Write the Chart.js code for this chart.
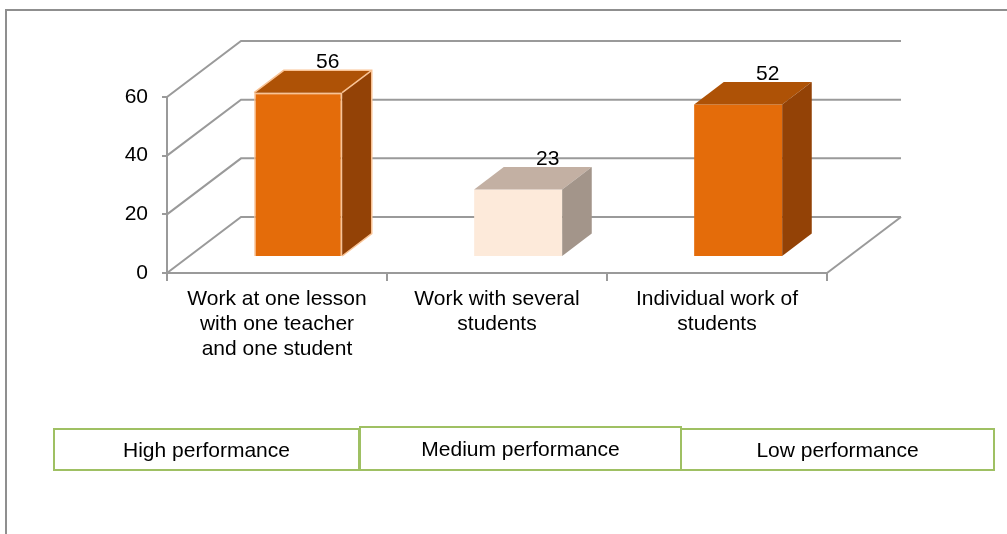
<!DOCTYPE html>
<html>
<head>
<meta charset="utf-8">
<script src="https://cdn.jsdelivr.net/npm/chart.js@4.4.1/dist/chart.umd.min.js"></script>
<style>
  html, body { margin: 0; padding: 0; background: #fff; }
  body { width: 1007px; height: 534px; position: relative; overflow: hidden; font-family: "Liberation Sans", Arial, sans-serif; }
  #frame { position: absolute; left: 5px; top: 9px; width: 1020px; height: 540px; border-left: 2px solid #8f8f8f; border-top: 2px solid #8f8f8f; }
  #chart { position: absolute; left: 0; top: 0; }
  .lvl { position: absolute; box-sizing: border-box; border: 2px solid #9fc063; font-size: 21px; text-align: center; color: #000; }
</style>
</head>
<body>
<div id="frame"></div>
<canvas id="chart" width="1007" height="534"></canvas>
<div id="levels"></div>
<script>
// data
const categories = [
    ["Work at one lesson", "with one teacher", "and one student"],
    ["Work with several", "students"],
    ["Individual work of", "students"]
];
const values = [56, 23, 52];
const yTicks = [0, 20, 40, 60];
const levels = ["High performance", "Medium performance", "Low performance"];

// colours for the 3d boxes
const frontColors = ["#e46c0a", "#fdeada", "#e46c0a"];
const topColors = ["#ae5206", "#c3b0a3", "#ae5206"];
const sideColors = ["#934206", "#a3958a", "#934206"];
const edgeColors = ["#f9c395", null, null];

const GRID = "#9a9a9a";
const FONT = '"Liberation Sans", Arial, sans-serif';

// depth of the floor, and where the boxes sit inside it
const DEPTH_X = 74, DEPTH_Y = -56;
const BAR_Z0 = 0.286, BAR_Z1 = 0.686;

const box3d = {
    id: "box3d",
    beforeDatasetsDraw(chart) {
        const ctx = chart.ctx;
        const a = chart.chartArea;
        const y = chart.scales.y;
        ctx.save();
        ctx.strokeStyle = GRID;
        ctx.lineWidth = 2;
        yTicks.forEach(v => {
            const py = y.getPixelForValue(v);
            ctx.beginPath();
            ctx.moveTo(a.left, py);
            ctx.lineTo(a.left + DEPTH_X, py + DEPTH_Y);
            ctx.lineTo(a.right + DEPTH_X, py + DEPTH_Y);
            ctx.stroke();
        });
        const p0 = y.getPixelForValue(0);
        ctx.beginPath();
        ctx.moveTo(a.right, p0);
        ctx.lineTo(a.right + DEPTH_X, p0 + DEPTH_Y);
        ctx.stroke();
        ctx.restore();

        // push the front faces back into the floor
        ctx.save();
        ctx.translate(DEPTH_X * BAR_Z0, DEPTH_Y * BAR_Z0);
    },
    afterDatasetsDraw(chart) {
        const ctx = chart.ctx;
        const meta = chart.getDatasetMeta(0);
        const dx = DEPTH_X * (BAR_Z1 - BAR_Z0);
        const dy = DEPTH_Y * (BAR_Z1 - BAR_Z0);
        meta.data.forEach((bar, i) => {
            const { x, y, base, width } = bar.getProps(["x", "y", "base", "width"], true);
            const l = x - width / 2, r = x + width / 2;

            ctx.beginPath();
            ctx.moveTo(l, y);
            ctx.lineTo(l + dx, y + dy);
            ctx.lineTo(r + dx, y + dy);
            ctx.lineTo(r, y);
            ctx.closePath();
            ctx.fillStyle = topColors[i];
            ctx.fill();

            ctx.beginPath();
            ctx.moveTo(r, y);
            ctx.lineTo(r + dx, y + dy);
            ctx.lineTo(r + dx, base + dy);
            ctx.lineTo(r, base);
            ctx.closePath();
            ctx.fillStyle = sideColors[i];
            ctx.fill();

            if (edgeColors[i]) {
                ctx.strokeStyle = edgeColors[i];
                ctx.lineWidth = 1.5;
                ctx.beginPath();
                ctx.moveTo(l, y);
                ctx.lineTo(l + dx, y + dy);
                ctx.lineTo(r + dx, y + dy);
                ctx.lineTo(r + dx, base + dy);
                ctx.lineTo(r, base);
                ctx.moveTo(r, y);
                ctx.lineTo(r + dx, y + dy);
                ctx.stroke();
            }

            ctx.fillStyle = "#000";
            ctx.font = "21px " + FONT;
            ctx.textAlign = "center";
            ctx.textBaseline = "alphabetic";
            ctx.fillText(String(values[i]), x + dx, y + dy - 2);
        });
        ctx.restore();
    }
};

const ctx = document.getElementById("chart");
new Chart(ctx, {
    type: "bar",
    data: {
        labels: categories,
        datasets: [{
            data: values,
            backgroundColor: frontColors,
            borderColor: edgeColors.map(c => c || "rgba(0,0,0,0)"),
            borderWidth: [1.5, 0, 0],
            barPercentage: 0.4,
            categoryPercentage: 1.0,
            clip: false
        }]
    },
    options: {
        responsive: false,
        animation: false,
        layout: { padding: { left: 0, top: 97, right: 180, bottom: 0 } },
        plugins: {
            legend: { display: false },
            tooltip: { enabled: false }
        },
        scales: {
            x: {
                afterFit: s => { s.height = 534 - 273; },
                grid: { drawOnChartArea: false, tickLength: 8, color: GRID, lineWidth: 2, offset: true },
                border: { color: GRID, width: 2 },
                ticks: {
                    color: "#000",
                    font: { family: FONT, size: 21, lineHeight: 1.19 },
                    padding: 6,
                    maxRotation: 0,
                    autoSkip: false
                }
            },
            y: {
                min: 0,
                max: 60,
                afterBuildTicks: s => { s.ticks = yTicks.map(v => ({ value: v })); },
                afterFit: s => { s.width = 167; },
                grid: { drawOnChartArea: false, tickLength: 5, color: GRID, lineWidth: 2 },
                border: { color: GRID, width: 2 },
                ticks: { color: "#000", font: { family: FONT, size: 21 }, padding: 14 }
            }
        }
    },
    plugins: [box3d]
});

// the three boxes under the chart
const boxes = [
    { left: 53, top: 428, width: 307, height: 43 },
    { left: 359, top: 426, width: 323, height: 45 },
    { left: 680, top: 428, width: 315, height: 43 }
];
const holder = document.getElementById("levels");
levels.forEach((txt, i) => {
    const b = boxes[i];
    const d = document.createElement("div");
    d.className = "lvl";
    d.style.left = b.left + "px";
    d.style.top = b.top + "px";
    d.style.width = b.width + "px";
    d.style.height = b.height + "px";
    d.style.lineHeight = (b.height - 4) + "px";
    d.textContent = txt;
    holder.appendChild(d);
});
</script>
</body>
</html>
